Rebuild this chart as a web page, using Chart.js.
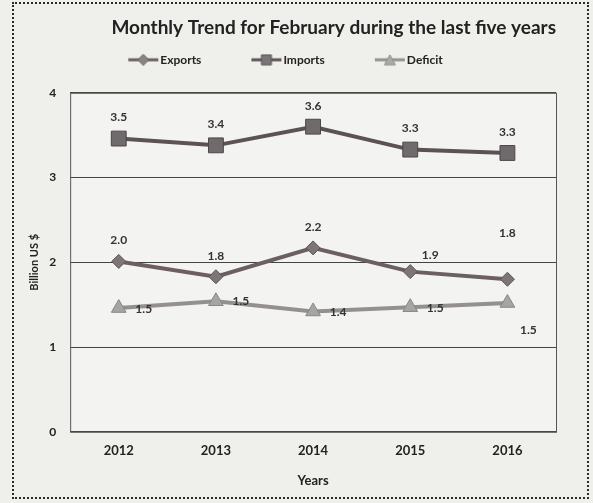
<!DOCTYPE html>
<html><head><meta charset="utf-8">
<script src="https://cdn.jsdelivr.net/npm/chart.js@4"></script>
<style>
html,body{margin:0;padding:0;background:#efefec;}
#wrap{position:absolute;left:12px;top:2px;width:573px;height:493px;border:2px dotted #2a2a2a;background:#efefec;}
canvas{display:block;}
</style></head><body>
<div id="wrap"><canvas id="c" width="573" height="493"></canvas></div>
<script>
const years = ['2012','2013','2014','2015','2016'];
const exportsVals = [2.01, 1.83, 2.17, 1.89, 1.80];
const importsVals = [3.46, 3.38, 3.60, 3.33, 3.29];
const deficitVals = [1.46, 1.54, 1.42, 1.47, 1.52];
const yTicks = [0, 1, 2, 3, 4];

function legendIcon(style, fill, line) {
  const cv = document.createElement('canvas');
  cv.width = 80; cv.height = 12;
  const g = cv.getContext('2d');
  const x0 = 45;
  g.strokeStyle = line; g.lineWidth = 3;
  g.beginPath(); g.moveTo(x0, 6); g.lineTo(x0 + 30, 6); g.stroke();
  g.fillStyle = fill; g.strokeStyle = line; g.lineWidth = 1;
  const c = x0 + 15;
  g.beginPath();
  if (style === 'rectRot') { g.moveTo(c,0.5); g.lineTo(c+5.5,6); g.lineTo(c,11.5); g.lineTo(c-5.5,6); g.closePath(); }
  else if (style === 'rect') { g.rect(c-5,1,10,10); }
  else { g.moveTo(c,1); g.lineTo(c+5.5,11); g.lineTo(c-5.5,11); g.closePath(); }
  g.fill(); g.stroke();
  return cv;
}

const offsets = {
  0: [[0,-21],[0,-21],[0,-21],[20,-16],[0,-46]],
  1: [[0,-21],[0,-21],[0,-21],[0,-21],[0,-21]],
  2: [[25,1],[25,0],[25,1],[25,1],[21,27]]
};

const labelPlugin = {
  id: 'vals',
  beforeLayout(chart) {
    const lg = chart.legend;
    if (lg && !lg._patched) {
      lg._patched = true;
      const fit = lg.fit, draw = lg.draw;
      lg.fit = function () { fit.call(this); this.height += 17; };
      lg.draw = function () {
        const ctx = this.ctx; ctx.save(); ctx.translate(-19, 0);
        draw.apply(this, arguments); ctx.restore();
      };
    }
  },
  afterDatasetsDraw(chart) {
    const ctx = chart.ctx;
    ctx.save();
    ctx.font = 'bold 12px Lato, "Open Sans", sans-serif';
    ctx.fillStyle = '#333';
    ctx.textAlign = 'center';
    ctx.textBaseline = 'middle';
    chart.data.datasets.forEach((ds, di) => {
      chart.getDatasetMeta(di).data.forEach((pt, i) => {
        const o = offsets[di][i];
        ctx.fillText(ds.data[i].toFixed(1), pt.x + o[0], pt.y + o[1]);
      });
    });
    ctx.restore();
  }
};

const plotBg = {
  id: 'plotBg',
  beforeDraw(chart) {
    const a = chart.chartArea, ctx = chart.ctx;
    ctx.save();
    ctx.fillStyle = '#f3f3f1';
    ctx.fillRect(a.left, a.top, a.right - a.left, a.bottom - a.top);
    ctx.restore();
  },
  afterDraw(chart) {
    const a = chart.chartArea, ctx = chart.ctx;
    ctx.save();
    ctx.strokeStyle = '#555';
    ctx.lineWidth = 1;
    ctx.strokeRect(a.left + 0.5, a.top + 0.5, a.right - a.left, a.bottom - a.top);
    ctx.restore();
  }
};

const font = 'Lato, "Open Sans", sans-serif';
new Chart(document.getElementById('c'), {
  type: 'line',
  data: {
    labels: years,
    datasets: [
      { label: 'Exports', data: exportsVals, borderColor: '#6b5f60', backgroundColor: '#7d7676',
        pointStyle: 'rectRot', pointRadius: 7, pointBorderColor: '#5d5354', pointBorderWidth: 1, borderWidth: 4,
        legendIcon: legendIcon('rectRot', '#8a8384', '#6b5f60') },
      { label: 'Imports', data: importsVals, borderColor: '#5c5254', backgroundColor: '#6f6a6b',
        pointStyle: 'rect', pointRadius: 10.5, pointBorderColor: '#4e4547', pointBorderWidth: 1, borderWidth: 4,
        legendIcon: legendIcon('rect', '#7a7576', '#5c5254') },
      { label: 'Deficit', data: deficitVals, borderColor: '#948f90', backgroundColor: '#a3a6a2',
        pointStyle: 'triangle', pointRadius: 8.5, pointBorderColor: '#8a8788', pointBorderWidth: 1, borderWidth: 4,
        legendIcon: legendIcon('triangle', '#a9aba8', '#948f90') }
    ]
  },
  options: {
    responsive: false,
    animation: false,
    layout: { padding: { left: 3, right: 31, top: 2, bottom: 8 } },
    plugins: {
      tooltip: { enabled: false },
      title: { display: true, fullSize: false, align: 'end', text: 'Monthly Trend for February during the last five years',
        color: '#222', font: { family: font, size: 19, weight: 'bold' }, padding: { top: 10, bottom: 1 } },
      legend: {
        position: 'top',
        labels: {
          usePointStyle: true,
          pointStyleWidth: 62,
          padding: 14,
          color: '#222',
          font: { family: font, size: 12, weight: 'bold' },
          generateLabels(chart) {
            return chart.data.datasets.map((ds, i) => ({
              text: ds.label, pointStyle: ds.legendIcon, fillStyle: ds.backgroundColor,
              strokeStyle: ds.borderColor, lineWidth: 0, datasetIndex: i, hidden: false, fontColor: '#222'
            }));
          }
        }
      }
    },
    scales: {
      x: {
        offset: true,
        grid: { display: false, drawTicks: false },
        border: { display: false },
        ticks: { color: '#222', font: { family: font, size: 13, weight: 'bold' }, padding: 11 },
        title: { display: true, text: 'Years', color: '#222', font: { family: font, size: 13, weight: 'bold' }, padding: { top: 4, bottom: 0 } }
      },
      y: {
        min: 0, max: 4,
        afterBuildTicks(scale) { scale.ticks = yTicks.map(v => ({ value: v })); },
        afterFit(scale) { scale.width -= 6; },
        grid: { color: '#444', lineWidth: 1, drawTicks: false },
        border: { display: false },
        ticks: { color: '#222', font: { family: font, size: 12, weight: 'bold' }, padding: 14 },
        title: { display: true, text: 'Billion US $', color: '#222', font: { family: font, size: 11, weight: 'bold' }, padding: { top: 11, bottom: 0 } }
      }
    }
  },
  plugins: [plotBg, labelPlugin]
});
</script>
</body></html>
